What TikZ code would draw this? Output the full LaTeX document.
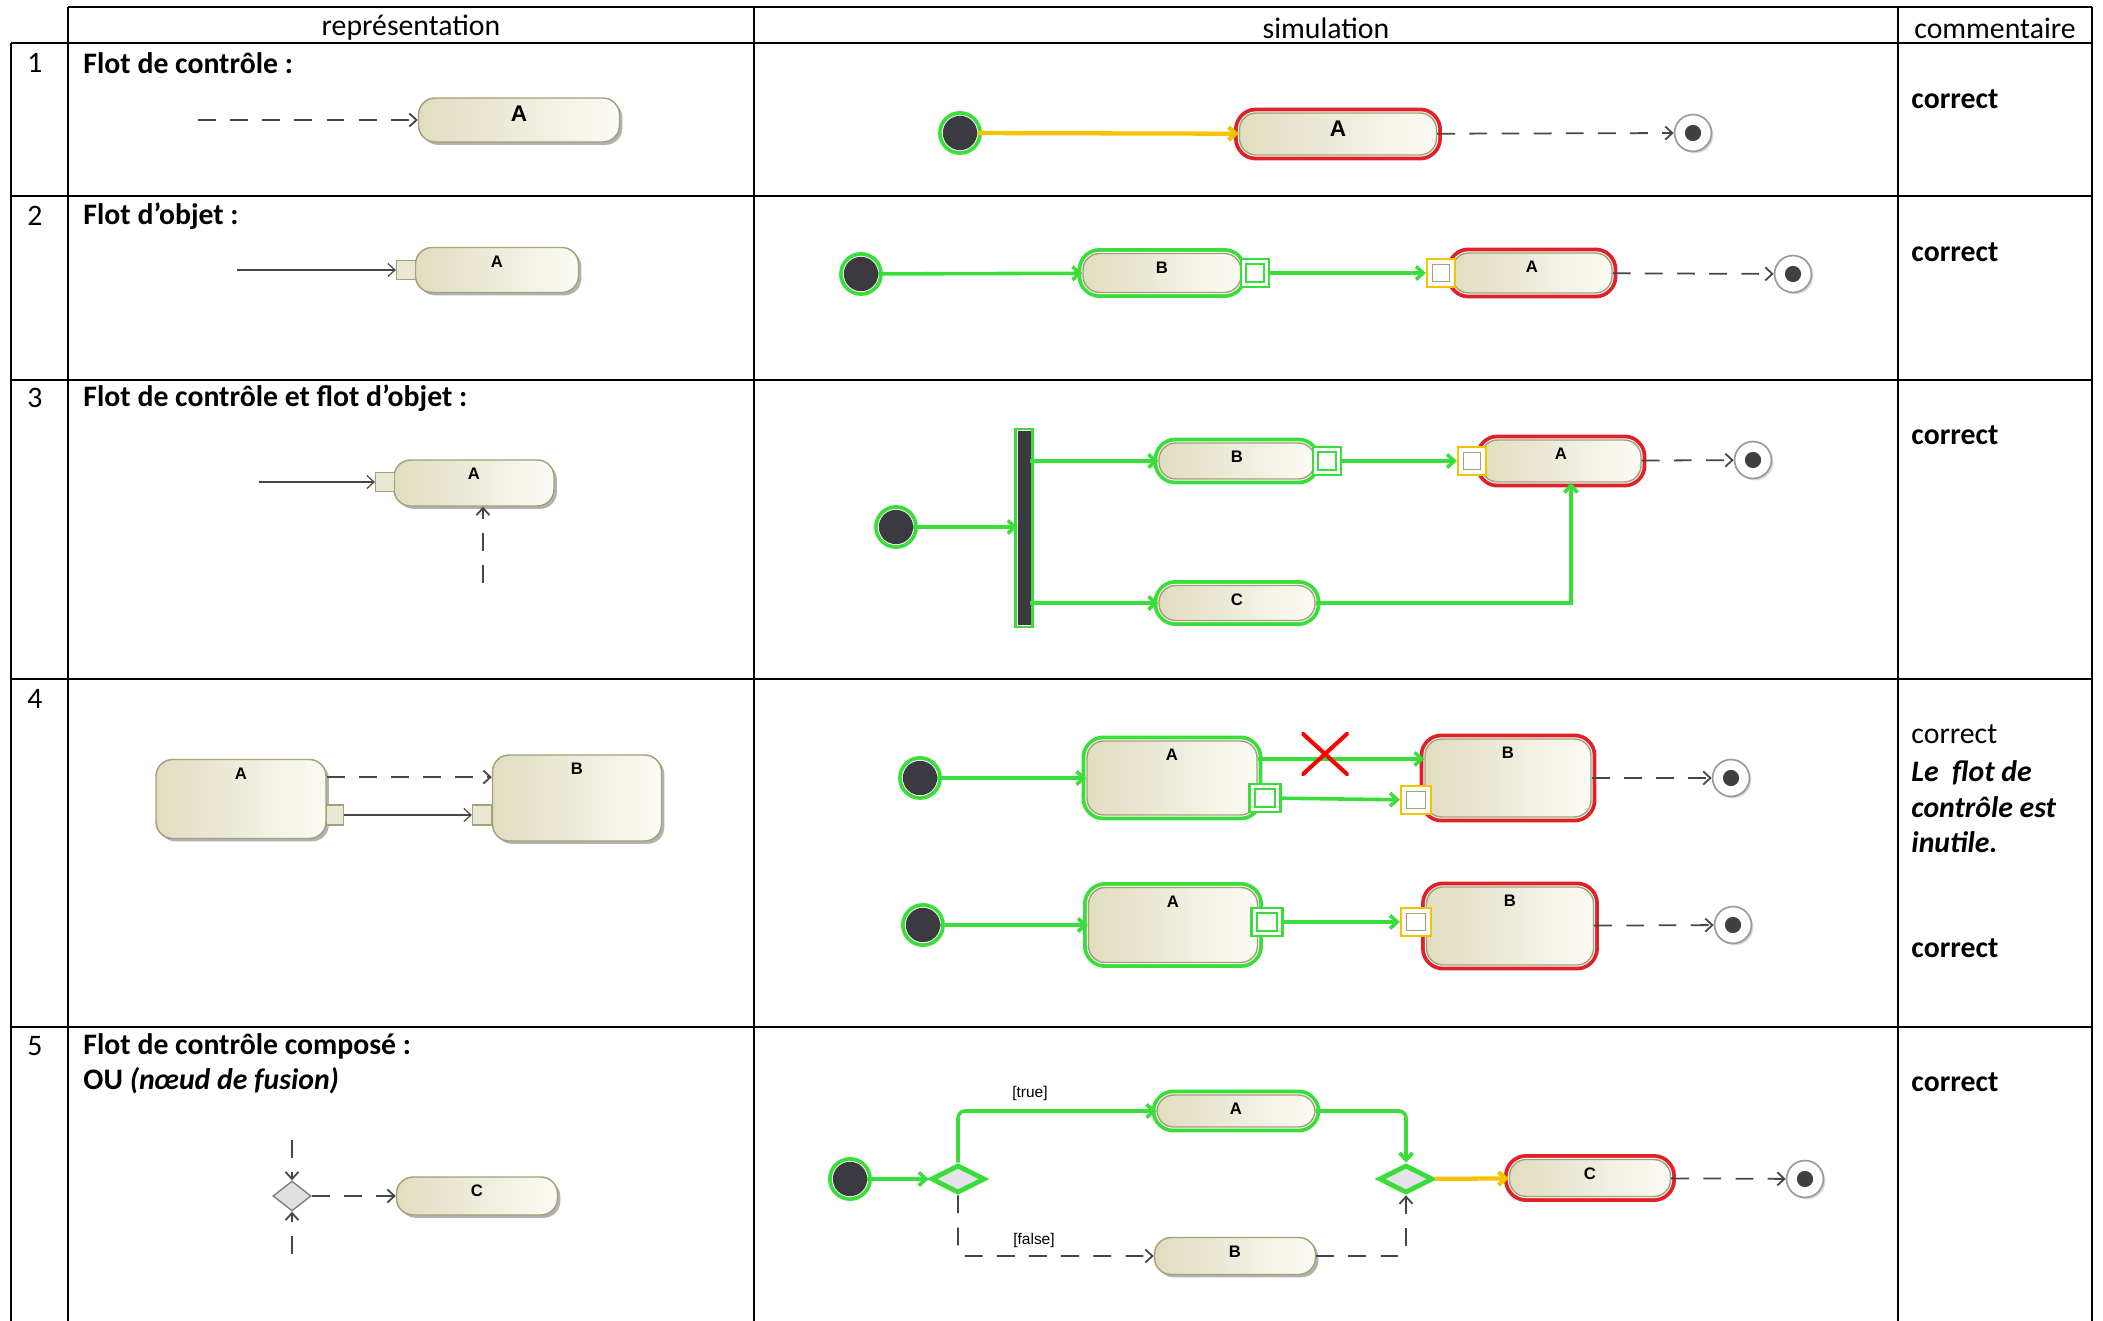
\documentclass[tikz,border=0pt]{standalone}
\usepackage{fontspec}
\setmainfont{Carlito}
\newfontfamily\umlfont{Liberation Sans}
\usetikzlibrary{arrows.meta,shapes.geometric,shadows}
\definecolor{actborder}{RGB}{164,160,120}
\definecolor{actleft}{RGB}{224,221,192}
\definecolor{actright}{RGB}{251,251,245}
\definecolor{simgreen}{RGB}{58,222,58}
\definecolor{simred}{RGB}{226,32,40}
\definecolor{simyellow}{RGB}{245,196,0}
\definecolor{ctrlgray}{RGB}{70,70,70}
\definecolor{initfill}{RGB}{58,58,64}
\definecolor{decfill}{RGB}{230,226,236}
\newcommand\pxl{0.42pt}
\newcommand\cellfont{\fontsize{12.5}{15}\selectfont}

\tikzset{
  cell/.style={inner sep=0pt, font=\cellfont},
  act/.style 2 args={rectangle, rounded corners=7pt, draw=actborder, line width=0.6pt,
    left color=actleft, right color=actright, inner sep=0pt,
    minimum width=#1*\pxl, minimum height=#2*\pxl},
  shade/.style={drop shadow={shadow xshift=1.2pt,shadow yshift=-1.2pt,opacity=0.3,fill=black}},
  lbl/.style={anchor=north, inner sep=0pt, yshift=-3.6pt, font=\umlfont\bfseries\fontsize{7}{8}\selectfont},
  actname/.style={label={[lbl]north:#1}},
  simok/.style={preaction={draw=simgreen,line width=4.6pt}, preaction={draw=white,line width=1.4pt}},
  simcur/.style={preaction={draw=simred,line width=4.6pt}, preaction={draw=white,line width=1.4pt}},
  rpin/.style={rectangle, draw=actborder, fill=actleft!70!white, line width=0.5pt,
    minimum size=19*\pxl, inner sep=0pt},
  opin/.style={rectangle, draw=simgreen, line width=1pt, fill=white, inner sep=0pt,
    minimum size=28*\pxl,
    path picture={\draw[simgreen,line width=0.8pt]
      ([shift={(2.2pt,2.2pt)}]path picture bounding box.south west) rectangle
      ([shift={(-2.2pt,-2.2pt)}]path picture bounding box.north east);}},
  ipin/.style={rectangle, draw=simyellow, line width=1pt, fill=white, inner sep=0pt,
    minimum size=28*\pxl,
    path picture={\draw[actborder,line width=0.6pt]
      ([shift={(2.2pt,2.2pt)}]path picture bounding box.south west) rectangle
      ([shift={(-2.2pt,-2.2pt)}]path picture bounding box.north east);}},
  initnode/.style={circle, fill=initfill, draw=initfill, minimum size=14pt, inner sep=0pt,
    preaction={draw=simgreen,line width=4.4pt}, preaction={draw=white,line width=1.2pt}},
  finalnode/.style={circle, draw=gray!80, fill=white, line width=0.7pt, minimum size=15.5pt,
    inner sep=0pt, drop shadow={shadow xshift=0.8pt,shadow yshift=-0.8pt,opacity=0.3},
    path picture={\fill[black!75] (path picture bounding box.center) circle (3.4pt);}},
  forkbar/.style={rectangle, fill=initfill, draw=initfill, inner sep=0pt,
    minimum width=12*\pxl, minimum height=193*\pxl,
    preaction={draw=simgreen,line width=3pt}, preaction={draw=white,line width=1pt}},
  decision/.style={diamond, fill=decfill, draw=simgreen, line width=2pt, inner sep=0pt,
    minimum width=54*\pxl, minimum height=28*\pxl},
  rdecision/.style={diamond, fill=black!12, draw=gray, line width=0.6pt, inner sep=0pt,
    minimum width=38*\pxl, minimum height=30*\pxl},
  redcross/.style={inner sep=0pt, minimum width=47*\pxl, minimum height=43*\pxl,
    path picture={\draw[red,line width=1.7pt]
      (path picture bounding box.south west) -- (path picture bounding box.north east)
      (path picture bounding box.north west) -- (path picture bounding box.south east);}},
  guard/.style={inner sep=0pt, font=\umlfont\fontsize{6.5}{7}\selectfont},
  ctrl/.style={->, ctrlgray, line width=0.75pt, dash pattern=on 7.5pt off 6pt},
  objflow/.style={->, ctrlgray, line width=0.5pt},
  okflow/.style={->, simgreen, line width=1.5pt},
  curflow/.style={->, simyellow, line width=1.8pt}
}

\begin{document}
\begin{tikzpicture}[x=\pxl, y=-\pxl, >={Straight Barb[length=3pt,width=5.5pt]}]
  \useasboundingbox (0,0) rectangle (2103,1321);

  % table
  \draw[line width=1.1pt] (68,7) -- (2092,7);
  \foreach \yy in {43,196,380,679,1027}
    \draw[line width=1.1pt] (11,\yy) -- (2092,\yy);
  \draw[line width=1.1pt] (11,43) -- (11,1321);
  \foreach \xx in {68,754,1898,2092}
    \draw[line width=1.1pt] (\xx,7) -- (\xx,1321);

  \node[cell] (hRep) at (411,28) {représentation};
  \node[cell] (hSim) at (1326,28) {simulation};
  \node[cell] (hCom) at (1995,28) {commentaire};

  \foreach \n/\yy in {1/63,2/216,3/398,4/699,5/1046}
    \node[cell,anchor=west] (num\n) at (27,\yy) {\n};

  \node[cell,anchor=west,font=\cellfont\bfseries] (t1) at (83,63) {Flot de contrôle :};
  \node[cell,anchor=west,font=\cellfont\bfseries] (t2) at (83,216) {Flot d’objet :};
  \node[cell,anchor=west,font=\cellfont\bfseries] (t3) at (83,398) {Flot de contrôle et flot d’objet :};
  \node[cell,anchor=west,font=\cellfont\bfseries] (t5a) at (83,1046) {Flot de contrôle composé :};
  \node[cell,anchor=west,font=\cellfont\bfseries] (t5b) at (83,1081) {OU \textit{(nœud de fusion)}};

  \foreach \n/\yy in {1/99,2/252,3/435,5/1082}
    \node[cell,anchor=west,font=\cellfont\bfseries] (c\n) at (1911,\yy) {correct};
  \node[cell,anchor=west] (c4a) at (1911,734) {correct};
  \node[cell,anchor=north west,align=left,font=\fontsize{12.5}{15}\selectfont\bfseries\itshape]
    (c4b) at (1911,760) {Le~ flot de\\contrôle est\\inutile.};
  \node[cell,anchor=west,font=\cellfont\bfseries] (c4c) at (1911,948) {correct};

  % row 1
  \coordinate (r1s) at (198,120);
  \node[act={201}{44},shade,label={[lbl,font=\umlfont\bfseries\fontsize{9.5}{10}\selectfont]north:A}] (r1A) at (519,120) {};
  \draw[ctrl] (r1s) -- (r1A);

  \node[initnode] (s1i) at (960,133) {};
  \node[act={197}{42},simcur,label={[lbl,font=\umlfont\bfseries\fontsize{9.5}{10}\selectfont]north:A}] (s1A) at (1338,134) {};
  \node[finalnode] (s1f) at (1693,133) {};
  \draw[curflow] (s1i) -- (s1A);
  \draw[ctrl] (s1A) -- (s1f);

  % row 2
  \coordinate (r2s) at (237,270);
  \node[act={163}{45},shade,actname=A] (r2A) at (497,270) {};
  \node[rpin] (r2p) at (406,270) {};
  \draw[objflow] (r2s) -- (r2p);

  \node[initnode] (s2i) at (861,274) {};
  \node[act={158}{39},simok,actname=B] (s2B) at (1162,273) {};
  \node[act={160}{40},simcur,actname=A] (s2A) at (1532,273) {};
  \node[opin] (s2o) at (1255,273) {};
  \node[ipin] (s2ip) at (1441,273) {};
  \node[finalnode] (s2f) at (1793,274) {};
  \draw[okflow] (s2i) -- (s2B);
  \draw[okflow] (s2o) -- (s2ip);
  \draw[ctrl] (s2A) -- (s2f);

  % row 3
  \coordinate (r3s) at (259,482);
  \coordinate (r3b) at (483,583);
  \node[act={160}{46},shade,actname=A] (r3A) at (474,483) {};
  \node[rpin] (r3p) at (385,482) {};
  \draw[objflow] (r3s) -- (r3p);
  \draw[ctrl] (r3b) -- (r3b |- r3A.south);

  \node[initnode] (s3i) at (896,527) {};
  \node[forkbar] (s3fk) at (1024,528) {};
  \node[act={156}{36},simok,actname=B] (s3B) at (1237,461) {};
  \node[act={160}{42},simcur,actname=A] (s3A) at (1561,461) {};
  \node[act={156}{35},simok,actname=C] (s3C) at (1237,603) {};
  \node[opin] (s3o) at (1327,461) {};
  \node[ipin] (s3ip) at (1472,461) {};
  \node[finalnode] (s3f) at (1753,460) {};
  \draw[okflow] (s3i) -- (s3i -| s3fk.west);
  \draw[okflow] (s3fk.east |- s3B) -- (s3B);
  \draw[okflow] (s3fk.east |- s3C) -- (s3C);
  \draw[okflow] (s3o) -- (s3ip);
  \draw[okflow] (s3C) -| ([xshift=4.2pt]s3A.south);
  \draw[ctrl] (s3A) -- (s3f);

  % row 4
  \node[act={170}{79},shade,actname=A] (r4A) at (241,799) {};
  \node[act={169}{86},shade,actname=B] (r4B) at (577,798) {};
  \node[rpin,minimum width=17*\pxl,minimum height=20*\pxl] (r4o) at (335,815) {};
  \node[rpin,minimum width=19*\pxl,minimum height=20*\pxl] (r4i) at (482,815) {};
  \draw[ctrl] ([yshift=9.2pt]r4A.east) -- ([yshift=9.2pt]r4A.east -| r4B.west);
  \draw[objflow] (r4o) -- (r4i);

  \node[initnode] (s4i1) at (920,778) {};
  \node[act={170}{74},simok,actname=A] (s4A1) at (1172,778) {};
  \node[act={166}{78},simcur,actname=B] (s4B1) at (1508,778) {};
  \node[opin,minimum width=31*\pxl] (s4o1) at (1265,798) {};
  \node[ipin,minimum width=30*\pxl] (s4ip1) at (1416,800) {};
  \node[finalnode] (s4f1) at (1731,778) {};
  \draw[okflow] (s4i1) -- (s4A1);
  \draw[okflow] ([yshift=8pt]s4A1.east) -- ([yshift=8pt]s4A1.east -| s4B1.west);
  \draw[okflow] (s4o1) -- (s4ip1);
  \draw[ctrl] (s4B1) -- (s4f1);
  \node[redcross] (s4x) at (1325,754) {};

  \node[initnode] (s4i2) at (923,925) {};
  \node[act={169}{75},simok,actname=A] (s4A2) at (1173,925) {};
  \node[act={167}{78},simcur,actname=B] (s4B2) at (1510,926) {};
  \node[opin,minimum width=31*\pxl] (s4o2) at (1267,922) {};
  \node[ipin,minimum width=30*\pxl] (s4ip2) at (1416,922) {};
  \node[finalnode] (s4f2) at (1733,925) {};
  \draw[okflow] (s4i2) -- (s4A2);
  \draw[okflow] (s4o2) -- (s4ip2);
  \draw[ctrl] (s4B2) -- (s4f2);

  % row 5
  \coordinate (r5t) at (292,1140);
  \coordinate (r5b) at (292,1254);
  \node[rdecision] (r5d) at (292,1196) {};
  \node[act={161}{38},shade,actname=C] (r5C) at (477,1196) {};
  \draw[ctrl] (r5t) -- (r5d);
  \draw[ctrl] (r5b) -- (r5d);
  \draw[ctrl] (r5d) -- (r5C);

  \node[initnode] (s5i) at (850,1179) {};
  \node[decision] (s5d1) at (958,1179) {};
  \node[decision] (s5d2) at (1406,1179) {};
  \node[act={158}{32},simok,actname=A] (s5A) at (1236,1111) {};
  \node[act={161}{37},shade,actname=B] (s5B) at (1235,1256) {};
  \node[act={161}{37},simcur,actname=C] (s5C) at (1590,1178) {};
  \node[finalnode] (s5f) at (1805,1179) {};
  \node[guard] (g5t) at (1030,1094) {[true]};
  \node[guard] (g5f) at (1034,1240) {[false]};
  \draw[okflow] (s5i) -- (s5d1);
  \draw[okflow,rounded corners=3pt] (s5d1.north) |- (s5A);
  \draw[okflow,rounded corners=3pt] (s5A) -| (s5d2.north);
  \draw[ctrl,rounded corners=3pt] (s5d1.south) |- (s5B);
  \draw[ctrl,rounded corners=3pt] (s5B) -| (s5d2.south);
  \draw[curflow] (s5d2) -- (s5C);
  \draw[ctrl] (s5C) -- (s5f);
\end{tikzpicture}
\end{document}
